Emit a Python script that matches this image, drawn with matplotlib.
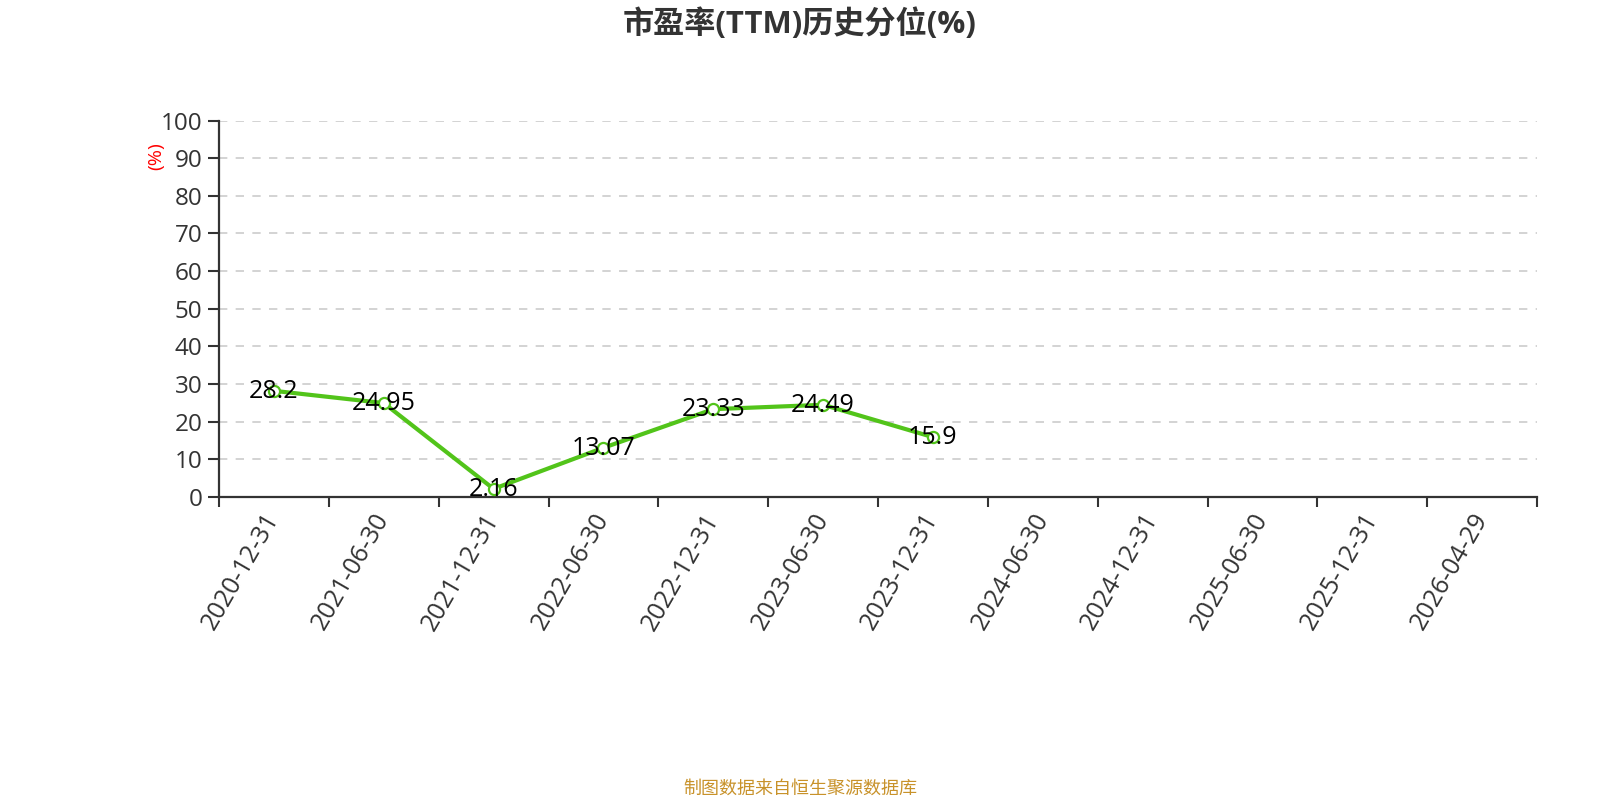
import matplotlib
matplotlib.use("Agg")
import matplotlib.pyplot as plt
import numpy as np

plt.rcParams['font.family'] = ['Open Sans', 'Noto Sans CJK SC', 'DejaVu Sans']

dates = ["2020-12-31", "2021-06-30", "2021-12-31", "2022-06-30", "2022-12-31",
         "2023-06-30", "2023-12-31", "2024-06-30", "2024-12-31", "2025-06-30",
         "2025-12-31", "2026-04-29"]
values = [28.2, 24.95, 2.16, 13.07, 23.33, 24.49, 15.9]
value_labels = ["28.2", "24.95", "2.16", "13.07", "23.33", "24.49", "15.9"]
yticks = [0, 10, 20, 30, 40, 50, 60, 70, 80, 90, 100]

fig = plt.figure(figsize=(16, 8), dpi=100)
ax = fig.add_axes([219/1600, 1-497/800, (1537-219)/1600, (497-120.5)/800])

x = np.arange(len(values))
ax.plot(x, values, color='#52c41a', lw=3, zorder=3,
        marker='o', markersize=8, markerfacecolor='white',
        markeredgecolor='#52c41a', markeredgewidth=1.6)
for xi, v, lab in zip(x, values, value_labels):
    ax.annotate(lab, (xi, v), xytext=(0, -0.5), textcoords='offset points',
                ha='center', va='center', fontsize=18, color='#000000', zorder=4)

ax.set_xlim(-0.5, len(dates) - 0.5)
ax.set_ylim(0, 100)
ax.set_yticks(yticks)
ax.set_yticklabels([str(t) for t in yticks])
ax.yaxis.grid(True, color='#cccccc', linestyle=(0, (5, 5)), linewidth=1.2)
ax.set_axisbelow(True)

ax.set_xticks(np.arange(-0.5, len(dates), 1.0))
ax.set_xticklabels([])
ax.set_xticks(np.arange(len(dates)), minor=True)
ax.set_xticklabels(dates, minor=True, rotation=60, ha='right', va='center',
                   rotation_mode='anchor', fontsize=18, color='#333333')
ax.tick_params(axis='x', which='minor', length=0, pad=13)
ax.tick_params(axis='x', which='major', length=7, width=1.5, color='#333333', direction='out')
ax.tick_params(axis='y', length=8, width=1.5, color='#333333', labelsize=17.5,
               labelcolor='#333333', pad=4)

for s in ['top', 'right']:
    ax.spines[s].set_visible(False)
for s in ['left', 'bottom']:
    ax.spines[s].set_color('#333333')
    ax.spines[s].set_linewidth(1.6)

fig.text(156/1600, 1-156/800, "(%)", rotation=90, color='red', fontsize=14,
         ha='center', va='center')

fig.text(0.5, 1-24/800, "市盈率(TTM)历史分位(%)", ha='center', va='center',
         fontsize=22.4, fontweight='bold', color='#333333')
fig.text(0.5, 1-789/800, "制图数据来自恒生聚源数据库", ha='center', va='center',
         fontsize=13, color='#c8922a')

fig.savefig("out.png", dpi=100)
